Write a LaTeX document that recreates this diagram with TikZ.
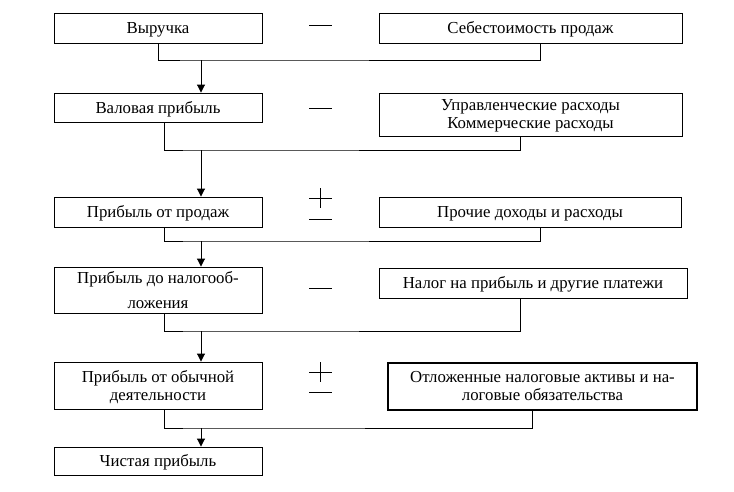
\documentclass[tikz,border=0pt]{standalone}
\usepackage{fontspec}
\setmainfont{Liberation Serif}
\usetikzlibrary{arrows.meta,calc}
\begin{document}
\begin{tikzpicture}[x=1pt,y=-1pt,
  box/.style={draw,line width=0.9pt,inner sep=0pt,align=center,text depth=1pt,font=\fontsize{16.8}{18}\selectfont},
  rbox/.style={box,line width=0.95pt},
  conn/.style={line width=0.9pt},
  arr/.style={line width=0.9pt,-{Triangle[length=8pt,width=8pt]}},
  sign/.style={line width=0.9pt}]
\useasboundingbox (0,0) rectangle (734,491);
% left boxes
\node[box,minimum width=208pt,minimum height=30pt] (L1) at (158,28) {Выручка};
\node[box,minimum width=208pt,minimum height=29pt] (L2) at (158,107.5) {Валовая прибыль};
\node[box,minimum width=208pt,minimum height=30pt] (L3) at (158,212) {Прибыль от продаж};
\node[box,minimum width=208pt,minimum height=46pt,font=\fontsize{16.8}{25}\selectfont] (L4) at (158,290) {Прибыль до налогооб-\\ложения};
\node[box,minimum width=208pt,minimum height=47pt] (L5) at (158,385.5) {Прибыль от обычной\\деятельности};
\node[box,minimum width=208pt,minimum height=28pt] (L6) at (158,461) {Чистая прибыль};
% right boxes
\node[rbox,minimum width=303pt,minimum height=30pt] (R1) at (530.5,28) {Себестоимость продаж};
\node[rbox,minimum width=303pt,minimum height=43pt] (R2) at (530.5,114.5) {Управленческие расходы\\Коммерческие расходы};
\node[rbox,minimum width=302pt,minimum height=30pt] (R3) at (530,212) {Прочие доходы и расходы};
\node[rbox,minimum width=308pt,minimum height=30pt] (R4) at (533,283) {Налог на прибыль и другие платежи};
\node[rbox,line width=1.2pt,minimum width=309pt,minimum height=47pt] (R5) at (542.5,386.5) {Отложенные налоговые активы и на-\\логовые обязательства};
% junctions
\coordinate (j1) at (201,60);
\coordinate (j2) at (201,150);
\coordinate (j3) at (201,241);
\coordinate (j4) at (201,331);
\coordinate (j5) at (201,428);
% connectors
\draw[conn] (L1.south) |- (j1) -| (R1.south -| 540,0);
\draw[arr] (j1) -- (L2.north -| j1);
\draw[conn] (L2.south -| 164,0) |- (j2) -| (R2.south -| 520,0);
\draw[arr] (j2) -- (L3.north -| j2);
\draw[conn] (L3.south -| 164,0) |- (j3) -| (R3.south -| 540,0);
\draw[arr] (j3) -- (L4.north -| j3);
\draw[conn] (L4.south -| 164,0) |- (j4) -| (R4.south -| 520,0);
\draw[arr] (j4) -- (L5.north -| j4);
\draw[conn] (L5.south -| 164,0) |- (j5) -| (R5.south -| 532,0);
\draw[arr] (j5) -- (L6.north -| j5);
% signs
\draw[sign] (309,25) -- (332,25);
\draw[sign] (309,108) -- (332,108);
\draw[sign] (309,198) -- (332,198) (320.5,188) -- (320.5,208);
\draw[sign] (309,219) -- (332,219);
\draw[sign] (309,288) -- (332,288);
\draw[sign] (309,372) -- (332,372) (320.5,362) -- (320.5,382);
\draw[sign] (309,392) -- (332,392);
\end{tikzpicture}
\end{document}
